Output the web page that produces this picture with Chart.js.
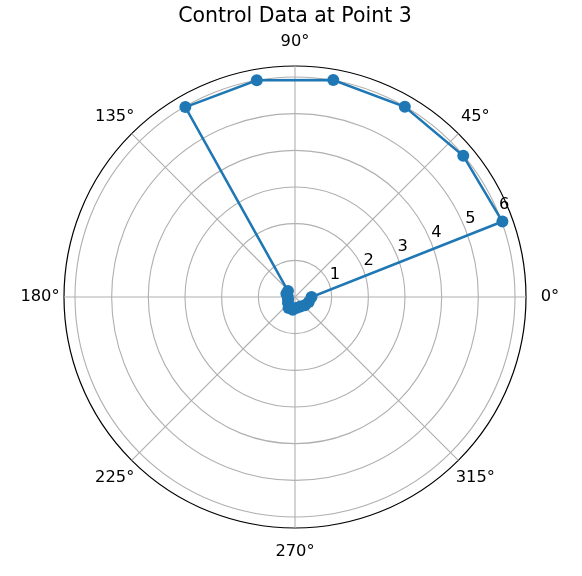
<html>
  <head>
    <title>Control Data at Point 3</title>
    <script src="https://cdn.jsdelivr.net/npm/chart.js@4.4.1/dist/chart.umd.min.js"></script>
    <style>
      body { margin: 0; background-color: white; }
      #wrap { width: 582px; height: 576px; }
    </style>
  </head>
  <body>
    <div id="wrap"><canvas id="polar-chart"></canvas></div>
  </body>
  <script>
    // measured angle (degrees) and radius of each point
    var thetaDeg = [0, 20, 40, 60, 80, 100, 120, 140, 160, 180, 200, 220, 240, 260, 280, 300, 320, 340, 360];
    var radius   = [0.45, 6.02, 5.99, 5.99, 6.01, 6.0, 5.98, 0.25, 0.25, 0.2, 0.2, 0.25, 0.35, 0.35, 0.3, 0.3, 0.35, 0.4, 0.45];
    var radialTicks = [1, 2, 3, 4, 5, 6];
    var angleTicks = [0, 45, 90, 135, 180, 225, 270, 315];
    var rMax = 6.3;

    // radar labels every 5 degrees, counter-clockwise from the right
    var step = 5;
    var slots = 360 / step;
    var labels = [];
    for (i = 0; i < slots; i++) {
      labels.push((360 - i * step) % 360);
    }
    var values = [];
    for (i = 0; i < slots; i++) values.push(null);
    for (i = 0; i < thetaDeg.length; i++) {
      var idx = (slots - Math.round(thetaDeg[i] / step)) % slots;
      values[idx] = radius[i];
    }

    var font = "'DejaVu Sans', sans-serif";

    var polarText = {
      id: 'polarText',
      afterDraw: function(chart) {
        var s = chart.scales.r;
        var ctx = chart.ctx;
        ctx.save();
        ctx.fillStyle = '#000';
        ctx.font = '16.3px ' + font;
        ctx.textAlign = 'center';
        ctx.textBaseline = 'middle';
        // angle tick labels
        for (i = 0; i < angleTicks.length; i++) {
          var a = angleTicks[i] * Math.PI / 180;
          var d = s.drawingArea + 24;
          ctx.fillText(angleTicks[i] + '\u00b0', s.xCenter + d * Math.cos(a), s.yCenter - d * Math.sin(a));
        }
        // radial tick labels along 22.5 degrees
        var ra = 22.5 * Math.PI / 180;
        for (i = 0; i < radialTicks.length; i++) {
          var dist = s.getDistanceFromCenterForValue(radialTicks[i]);
          ctx.fillText(String(radialTicks[i]), s.xCenter + dist * Math.cos(ra) + 6, s.yCenter - dist * Math.sin(ra) - 8);
        }
        ctx.restore();
      }
    };

    new Chart(document.getElementById('polar-chart'), {
      type: 'radar',
      data: {
        labels: labels,
        datasets: [{
          label: 'Control Data',
          data: values,
          spanGaps: true,
          fill: false,
          tension: 0,
          borderColor: '#1f77b4',
          borderWidth: 2.5,
          pointRadius: 6,
          pointHoverRadius: 6,
          pointBorderWidth: 0,
          pointBackgroundColor: '#1f77b4'
        }]
      },
      options: {
        responsive: true,
        maintainAspectRatio: false,
        animation: false,
        layout: { padding: { left: 64, right: 56, top: 0, bottom: 48 } },
        plugins: {
          legend: { display: false },
          tooltip: { enabled: false },
          title: {
            display: true,
            text: 'Control Data at Point 3',
            color: '#000',
            font: { family: font, size: 20.5, weight: 'normal' },
            padding: { top: 4.7, bottom: 36.7 }
          }
        },
        scales: {
          r: {
            min: 0,
            max: rMax,
            startAngle: 90,
            ticks: { display: false, stepSize: 1 },
            pointLabels: { display: false },
            grid: {
              circular: true,
              color: function(c) { return c.tick && c.tick.value > 6.2 ? '#000' : '#b0b0b0'; },
              lineWidth: function(c) { return c.tick && c.tick.value > 6.2 ? 1.2 : 1.1; }
            },
            angleLines: {
              display: true,
              color: function(c) { return (c.label % 45 === 0) ? '#b0b0b0' : 'rgba(0,0,0,0)'; },
              lineWidth: function(c) { return (c.label % 45 === 0) ? 1.1 : 0; }
            }
          }
        }
      },
      plugins: [polarText]
    });
  </script>
</html>
